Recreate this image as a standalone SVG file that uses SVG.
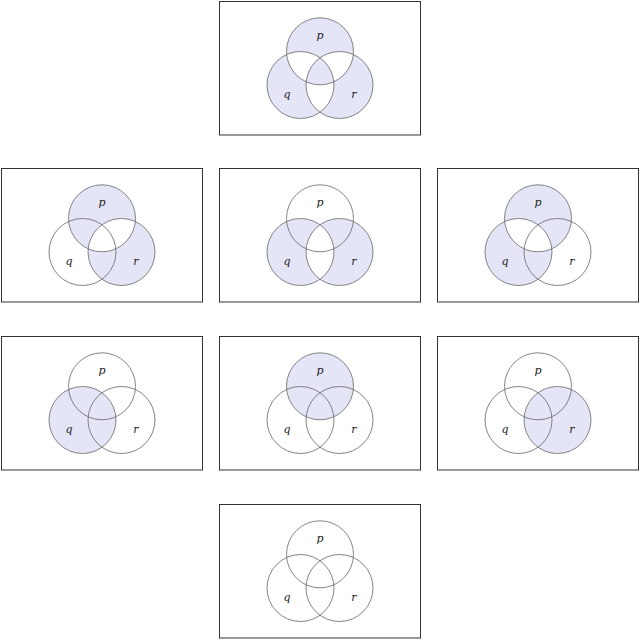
<svg xmlns="http://www.w3.org/2000/svg" xmlns:xlink="http://www.w3.org/1999/xlink" width="640" height="640" viewBox="0 0 640 640">
<style>
.box{fill:#fff;stroke:#333;stroke-width:1}
.sh{fill:#e5e5f8;fill-rule:evenodd;stroke:none}
.ring{fill:none;stroke:#666;stroke-width:0.8}
.lbl{font-family:"DejaVu Serif","Liberation Serif",serif;font-style:italic;font-size:11px;fill:#222;text-anchor:middle}
</style>
<defs>
<path id="P" d="M67.5,50.3a33.5,33.5 0 1,0 67,0a33.5,33.5 0 1,0 -67,0Z"/>
<path id="Q" d="M48,84a33.5,33.5 0 1,0 67,0a33.5,33.5 0 1,0 -67,0Z"/>
<path id="R" d="M87,84a33.5,33.5 0 1,0 67,0a33.5,33.5 0 1,0 -67,0Z"/>
<path id="PQR" d="M67.5,50.3a33.5,33.5 0 1,0 67,0a33.5,33.5 0 1,0 -67,0ZM48,84a33.5,33.5 0 1,0 67,0a33.5,33.5 0 1,0 -67,0ZM87,84a33.5,33.5 0 1,0 67,0a33.5,33.5 0 1,0 -67,0Z"/>
<path id="PR" d="M67.5,50.3a33.5,33.5 0 1,0 67,0a33.5,33.5 0 1,0 -67,0ZM87,84a33.5,33.5 0 1,0 67,0a33.5,33.5 0 1,0 -67,0Z"/>
<path id="QR" d="M48,84a33.5,33.5 0 1,0 67,0a33.5,33.5 0 1,0 -67,0ZM87,84a33.5,33.5 0 1,0 67,0a33.5,33.5 0 1,0 -67,0Z"/>
<path id="PQ" d="M67.5,50.3a33.5,33.5 0 1,0 67,0a33.5,33.5 0 1,0 -67,0ZM48,84a33.5,33.5 0 1,0 67,0a33.5,33.5 0 1,0 -67,0Z"/>
<g id="base">
<use xlink:href="#P" class="ring"/>
<use xlink:href="#Q" class="ring"/>
<use xlink:href="#R" class="ring"/>
<text class="lbl" x="101" y="38">p</text>
<text class="lbl" x="68" y="97">q</text>
<text class="lbl" x="135" y="97">r</text>
</g>
</defs>
<g id="panel-pqr" transform="translate(219,1)">
<rect class="box" x="0.5" y="0.5" width="201" height="133.5"/>
<use xlink:href="#PQR" class="sh"/>
<use xlink:href="#base"/>
</g>
<g id="panel-pr" transform="translate(1,168)">
<rect class="box" x="0.5" y="0.5" width="201" height="133.5"/>
<use xlink:href="#PR" class="sh"/>
<use xlink:href="#base"/>
</g>
<g id="panel-qr" transform="translate(219,168)">
<rect class="box" x="0.5" y="0.5" width="201" height="133.5"/>
<use xlink:href="#QR" class="sh"/>
<use xlink:href="#base"/>
</g>
<g id="panel-pq" transform="translate(437,168)">
<rect class="box" x="0.5" y="0.5" width="201" height="133.5"/>
<use xlink:href="#PQ" class="sh"/>
<use xlink:href="#base"/>
</g>
<g id="panel-q" transform="translate(1,336)">
<rect class="box" x="0.5" y="0.5" width="201" height="133.5"/>
<use xlink:href="#Q" class="sh"/>
<use xlink:href="#base"/>
</g>
<g id="panel-p" transform="translate(219,336)">
<rect class="box" x="0.5" y="0.5" width="201" height="133.5"/>
<use xlink:href="#P" class="sh"/>
<use xlink:href="#base"/>
</g>
<g id="panel-r" transform="translate(437,336)">
<rect class="box" x="0.5" y="0.5" width="201" height="133.5"/>
<use xlink:href="#R" class="sh"/>
<use xlink:href="#base"/>
</g>
<g id="panel-none" transform="translate(219,504)">
<rect class="box" x="0.5" y="0.5" width="201" height="133.5"/>
<use xlink:href="#base"/>
</g>
</svg>
